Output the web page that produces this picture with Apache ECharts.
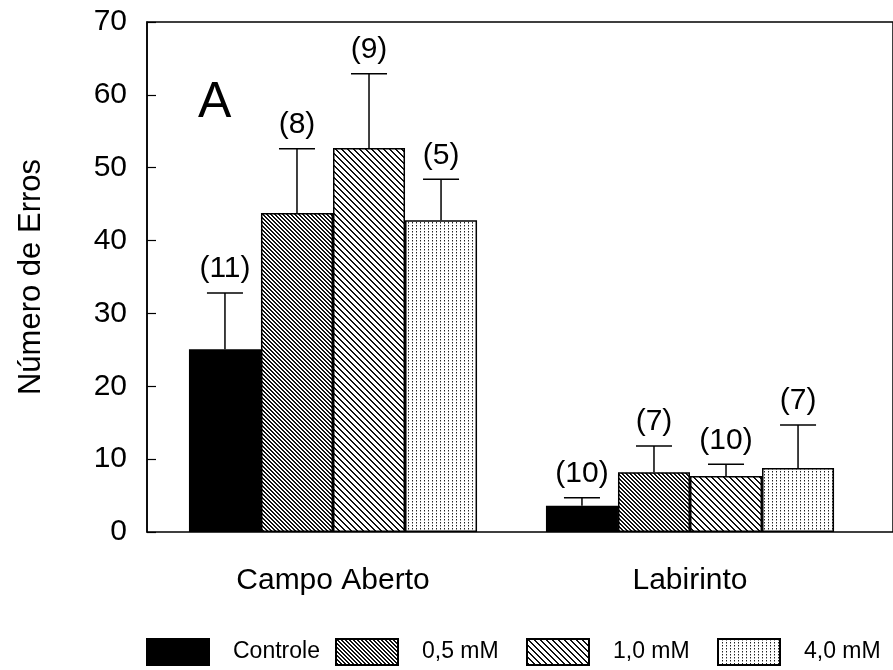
<!DOCTYPE html>
<html><head><meta charset="utf-8">
<script src="https://cdn.jsdelivr.net/npm/echarts@6/dist/echarts.min.js"></script>
<style>html,body{margin:0;padding:0;background:#fff}#c{width:893px;height:670px}</style>
</head><body><div id="c"></div>
<script>
var categories = ['Campo Aberto', 'Labirinto'];
var groupNames = ['Controle', '0,5 mM', '1,0 mM', '4,0 mM'];
var meanControle = [25.1, 3.6];
var mean05 = [43.8, 8.2];
var mean10 = [52.7, 7.7];
var mean40 = [42.8, 8.8];
var errControle = [7.7, 1.1];
var err05 = [8.8, 3.6];
var err10 = [10.2, 1.6];
var err40 = [5.6, 5.9];
var nControle = ['(11)', '(10)'];
var n05 = ['(8)', '(7)'];
var n10 = ['(9)', '(10)'];
var n40 = ['(5)', '(7)'];
var yTicks = [0, 10, 20, 30, 40, 50, 60, 70];

var means = [meanControle, mean05, mean10, mean40];
var errs = [errControle, err05, err10, err40];
var ns = [nControle, n05, n10, n40];

function makePattern(w, h, fn) {
  var c = document.createElement('canvas');
  c.width = w; c.height = h;
  var ctx = c.getContext('2d');
  ctx.fillStyle = '#fff'; ctx.fillRect(0, 0, w, h);
  for (var x = 0; x < w; x++) for (var y = 0; y < h; y++) {
    var col = fn(x, y);
    if (col) { ctx.fillStyle = col; ctx.fillRect(x, y, 1, 1); }
  }
  return { image: c, repeat: 'repeat' };
}
var pat05 = makePattern(4, 4, function (x, y) { return (((x - y) % 4 + 4) % 4) < 2 ? '#111' : null; });
var pat10 = makePattern(6, 6, function (x, y) { return (((x - y) % 6 + 6) % 6) < 2 ? '#111' : null; });
var pat40 = makePattern(4, 3, function (x, y) { return (x === 0 && y === 0) ? '#222' : (x === 0 && y === 1 ? '#999' : null); });
var fills = ['#000', pat05, pat10, pat40];

var GAP = 0.193;
var font = 'Liberation Sans, Arial, sans-serif';

var series = [];
groupNames.forEach(function (name, k) {
  series.push({
    name: name, type: 'bar', xAxisIndex: 0, yAxisIndex: 0,
    data: means[k], barGap: '0%', barCategoryGap: (GAP * 100) + '%',
    itemStyle: { color: fills[k], borderColor: '#000', borderWidth: 1.5 },
    emphasis: { disabled: true }, animation: false
  });
});
groupNames.forEach(function (name, k) {
  var data = means[k].map(function (m, i) { return [i, m, m + errs[k][i]]; });
  series.push({
    type: 'custom', xAxisIndex: 0, yAxisIndex: 0, data: data, z: 5, animation: false,
    renderItem: function (params, api) {
      var band = api.size([1, 0])[0];
      var bw = band * (1 - GAP) / 4;
      var base = api.coord([api.value(0), api.value(1)]);
      var top = api.coord([api.value(0), api.value(2)]);
      var cx = base[0] + (k - 1.5) * bw;
      var half = bw / 4;
      return {
        type: 'group', children: [
          { type: 'line', shape: { x1: cx, y1: base[1], x2: cx, y2: top[1] }, style: { stroke: '#000', lineWidth: 1.5 } },
          { type: 'line', shape: { x1: cx - half, y1: top[1], x2: cx + half, y2: top[1] }, style: { stroke: '#000', lineWidth: 1.5 } },
          { type: 'text', x: cx, y: top[1] - 9, style: { text: ns[k][params.dataIndex], fill: '#000', font: '30px ' + font, textAlign: 'center', textVerticalAlign: 'bottom' } }
        ]
      };
    }
  });
});

var legendLefts = [146, 335, 526, 717];
var legends = groupNames.map(function (name, k) {
  return {
    data: [name], left: legendLefts[k], top: 638, itemWidth: 62, itemHeight: 26, padding: 0,
    icon: 'rect', selectedMode: false,
    textStyle: { fontSize: 23, color: '#000', fontFamily: font, padding: [0, 0, 0, 19] }
  };
});

var chart = echarts.init(document.getElementById('c'), null, { renderer: 'canvas' });
chart.setOption({
  backgroundColor: '#fff',
  animation: false,
  textStyle: { fontFamily: font, color: '#000' },
  title: { text: 'A', left: 198, top: 78, padding: 0, textStyle: { fontSize: 50, fontWeight: 'normal', color: '#000', fontFamily: font } },
  grid: [
    { left: 154.5, width: 714, top: 22, bottom: 138 },
    { left: 147, right: -30, top: 22, bottom: 138, show: true, borderColor: '#000', borderWidth: 1.5, backgroundColor: 'transparent' }
  ],
  xAxis: [
    { type: 'category', gridIndex: 0, data: categories, axisLine: { show: false }, axisTick: { show: false },
      axisLabel: { fontSize: 30, color: '#000', margin: 34, fontFamily: font } },
    { type: 'value', gridIndex: 1, min: 0, max: 1, show: false }
  ],
  yAxis: [
    { type: 'value', gridIndex: 0, min: 0, max: 70, interval: 10, show: false },
    { type: 'value', gridIndex: 1, min: 0, max: 70, interval: 10,
      name: 'Número de Erros', nameLocation: 'middle', nameGap: 100, nameRotate: 90,
      nameTextStyle: { fontSize: 31, color: '#000', fontFamily: font },
      axisLine: { show: true, lineStyle: { color: '#000', width: 1.5 } },
      axisTick: { show: true, inside: true, length: 9, lineStyle: { color: '#000', width: 1.2 } },
      axisLabel: { fontSize: 30, color: '#000', margin: 20, fontFamily: font,
        formatter: function (v) { return yTicks.indexOf(v) >= 0 ? String(v) : ''; } },
      splitLine: { show: false } }
  ],
  legend: legends,
  series: series
});
</script></body></html>
